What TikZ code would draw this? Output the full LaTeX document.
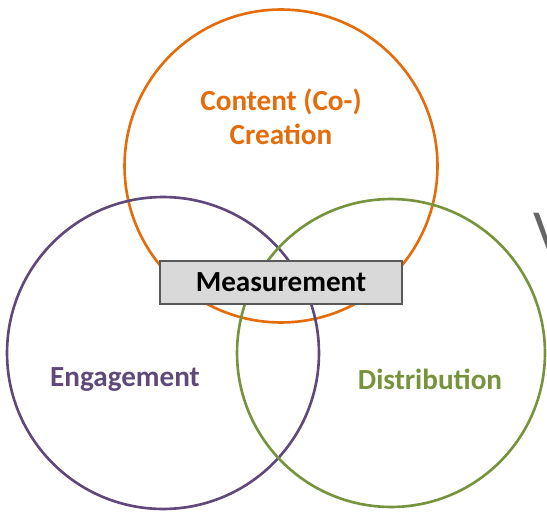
\documentclass[tikz,border=0pt]{standalone}
\usepackage{fontspec}
\setmainfont{Carlito}
\usetikzlibrary{positioning}
\definecolor{vorange}{HTML}{E46C0A}
\definecolor{vpurple}{HTML}{5F497A}
\definecolor{vgreen}{HTML}{77933C}
\definecolor{boxgray}{HTML}{D9D9D9}
\tikzset{
  venn/.style={circle,draw,line width=1.5pt,inner sep=0pt},
  vennlabel/.style={font=\fontsize{16.6}{19.5}\selectfont\bfseries,align=center},
  measbox/.style={draw=black!65,fill=boxgray,line width=0.8pt,
                  minimum width=4.84cm,minimum height=0.86cm,
                  font=\fontsize{16.6}{19.5}\selectfont\bfseries}
}

\begin{document}
\begin{tikzpicture}[x=0.02cm,y=-0.02cm]
\clip (0,0) rectangle (547,513);
% the three overlapping rings
\node[venn,draw=vorange,minimum size=6.26cm] (creation) at (281,166) {};
\node[venn,draw=vpurple,minimum size=6.24cm] (engagement) at (163,353) {};
\node[venn,draw=vgreen,minimum size=6.16cm] (distribution) at (391,353) {};
% ring titles
\node[vennlabel,text=vorange] (creationtxt) at (281,117) {Content (Co-)\\Creation};
\node[vennlabel,text=vpurple] (engagementtxt) at (125,380) {Engagement};
\node[vennlabel,text=vgreen] (distributiontxt) at (430,379) {Distribution};
% shared bar across the middle
\node[measbox] (measure) at (281,282.5) {Measurement};
% cut-off letter at the edge
\node[anchor=north west,inner sep=0pt,text=black!60,
      font=\fontsize{34}{34}\selectfont] (edge) at (533,213) {V};
\end{tikzpicture}
\end{document}
